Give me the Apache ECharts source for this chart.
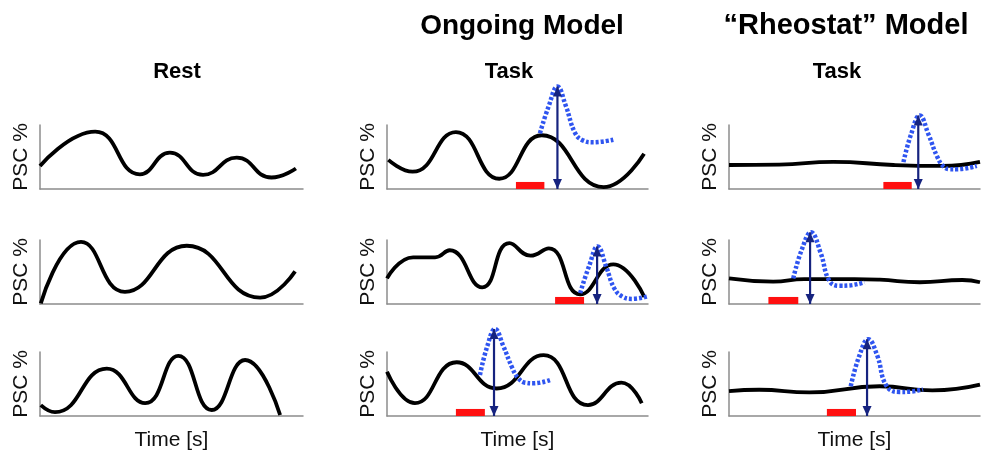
<!DOCTYPE html>
<html>
<head>
<meta charset="utf-8">
<script src="https://cdn.jsdelivr.net/npm/echarts@6/dist/echarts.min.js"></script>
<style>
html,body{margin:0;padding:0;background:#fff;}
#c{width:981px;height:453px;}
</style>
</head>
<body>
<div id="c"></div>
<script>
// ---- Data (x: 0-100 time units, y: 0-100 PSC units per panel) ----
const rest1 = [[0,36],[21,89.5],[38,23],[49.4,56.7],[62,22],[74.8,49],[88,18],[97.3,32]];
const rest2 = [[0.3,1],[15.6,97],[32.3,19],[55.8,91],[83.7,10],[97,51]];
const rest3 = [[0.3,17],[5.7,6],[25.4,74],[40,20],[52.6,94],[65.3,9.4],[78,87.5],[91.3,1.5]];

const ongoing1 = [[0.5,45.5],[9.8,27],[26.4,89],[43,16],[59.3,84],[83,3],[98.5,55]];
const ongoing2 = [[0,40],[10,73],[18.4,73],[24,84],[36.5,26],[46.9,95],[55,75.5],[62,87],[74,15],[86.7,62],[98.6,11]];
const ongoing3 = [[0,69],[10.7,20],[26.7,84],[42,43],[60,95],[77,17],[89.8,52],[97.6,20]];

const rheo1 = [[0,37.5],[20,38],[41.5,42.5],[65.5,37.5],[85,36],[100,42.5]];
const rheo2 = [[0,40],[17.6,35],[30,39],[50,39],[60,38],[76,34],[93,37.5],[100,34]];
const rheo3 = [[0,39],[12,41],[32,37],[60,46.5],[81,40],[100,49]];

const evoked1 = [[58.6,87],[62,130],[65.3,160],[68.5,130],[72,88],[75,76],[79,73],[86.7,77]];
const evoked2 = [[74,17],[77.5,60],[80.7,90],[84,58],[87,25],[90,12],[94,8],[100,12]];
const evoked3 = [[35.6,64],[38.5,110],[41.4,136],[44.5,110],[48,75],[50.3,59],[53,52],[56,51],[63,57]];
const evoked4 = [[69.5,42],[72.5,85],[76,115],[79.5,85],[83,50],[85.5,35],[88,31],[90.7,31],[98.7,36]];
const evoked5 = [[25.6,40],[29,85],[32.7,112],[36.5,80],[40,36],[44,28.5],[48,29],[54,34]];
const evoked6 = [[48.5,46.6],[52,95],[55.5,120],[59,95],[62.8,46.6],[68,37.6],[72,38],[77.3,41.6]];

const arrowX   = [65.3, 80.5, 41, 75.4, 32.3, 55];
const arrowTop = [160, 90, 136, 115, 112, 120];
const stimOn   = [49.4, 64.4, 26.4, 61.5, 15.7, 39];
const stimOff  = [60.3, 75.5, 37.5, 72.8, 27.6, 50.6];
const stimHeight = 11;

const columnTitles = ['Rest', 'Task', 'Task'];
const modelTitles = ['Ongoing Model', '\u201CRheostat\u201D Model'];
const yLabel = 'PSC %';
const xLabel = 'Time [s]';

// ---- Layout ----
const colLeft = [40, 387, 729];
const colWidth = [263, 261, 251];
const rowTop = [125, 240, 352];
const rowH = 64;
const FONT = 'Liberation Sans, Arial, Helvetica, sans-serif';

const blackSets = [[rest1, rest2, rest3],[ongoing1, ongoing2, ongoing3],[rheo1, rheo2, rheo3]];
const evokedSets = [evoked1, evoked2, evoked3, evoked4, evoked5, evoked6];

const grids = [], xAxes = [], yAxes = [], series = [];
let idx = 0;
for (let c = 0; c < 3; c++) {
  for (let r = 0; r < 3; r++) {
    grids.push({left: colLeft[c], top: rowTop[r], width: colWidth[c], height: rowH, containLabel: false});
    xAxes.push({
      type: 'value', gridIndex: idx, min: 0, max: 100,
      axisLine: {show: true, lineStyle: {color: '#8c8c8c', width: 1.5}},
      axisTick: {show: false}, axisLabel: {show: false}, splitLine: {show: false},
      name: r === 2 ? xLabel : '', nameLocation: 'middle', nameGap: 14,
      nameTextStyle: {fontFamily: FONT, fontSize: 21, color: '#111'}
    });
    yAxes.push({
      type: 'value', gridIndex: idx, min: 0, max: 100,
      axisLine: {show: true, onZero: false, lineStyle: {color: '#8c8c8c', width: 1.5}},
      axisTick: {show: false}, axisLabel: {show: false}, splitLine: {show: false},
      name: yLabel, nameLocation: 'middle', nameRotate: 90, nameGap: 8,
      nameTextStyle: {fontFamily: FONT, fontSize: 21, color: '#111'}
    });
    const black = {
      type: 'line', xAxisIndex: idx, yAxisIndex: idx, data: blackSets[c][r],
      smooth: 0.5, showSymbol: false, symbol: 'none', clip: false, silent: true, z: 3,
      lineStyle: {color: '#000', width: 3.8}
    };
    series.push(black);
    if (c > 0) {
      const k = (c - 1) * 3 + r;
      black.markArea = {
        silent: true,
        itemStyle: {color: '#ff1010'},
        data: [[{coord: [stimOn[k], 0]}, {coord: [stimOff[k], stimHeight]}]]
      };
      series.push({
        type: 'line', xAxisIndex: idx, yAxisIndex: idx, data: evokedSets[k],
        smooth: 0.45, showSymbol: false, symbol: 'none', clip: false, silent: true, z: 4,
        lineStyle: {color: '#2f55f0', width: 4.5, type: [3, 2]}
      });
      // double-headed arrow: evoked amplitude
      series.push({
        type: 'line', xAxisIndex: idx, yAxisIndex: idx, clip: false, silent: true, z: 5,
        symbol: 'triangle', symbolSize: [9, 10], showSymbol: true, showAllSymbol: true,
        itemStyle: {color: '#16237f'},
        lineStyle: {color: '#16237f', width: 2.2},
        data: [
          {value: [arrowX[k], 0], symbolRotate: 180, symbolOffset: [0, -5]},
          {value: [arrowX[k], arrowTop[k]], symbolRotate: 0, symbolOffset: [0, 5]}
        ]
      });
    }
    idx++;
  }
}

const titleText = (t, x, y, size) => ({
  type: 'text', x: x, y: y, silent: true,
  style: {text: t, x: 0, y: 0, fill: '#000', font: 'bold ' + size + 'px ' + FONT,
          textAlign: 'center', textVerticalAlign: 'middle', align: 'center', verticalAlign: 'middle'}
});

const option = {
  animation: false,
  backgroundColor: '#fff',
  grid: grids, xAxis: xAxes, yAxis: yAxes, series: series,
  graphic: [
    titleText(columnTitles[0], 177, 72, 22),
    titleText(columnTitles[1], 509, 72, 22),
    titleText(columnTitles[2], 837, 72, 22),
    titleText(modelTitles[0], 522, 26, 28),
    titleText(modelTitles[1], 846, 26, 29)
  ]
};
const chart = echarts.init(document.getElementById('c'), null, {renderer: 'canvas'});
chart.setOption(option);
</script>
</body>
</html>
